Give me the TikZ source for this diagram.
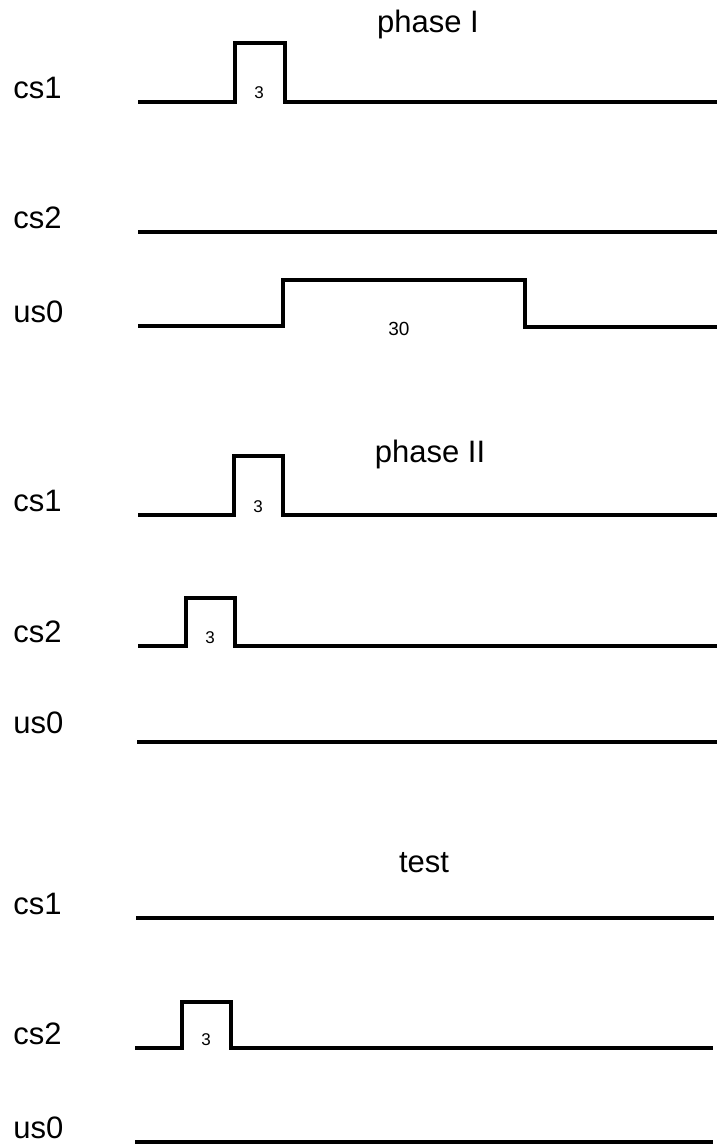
\documentclass[tikz,border=0pt]{standalone}
\usepackage{fontspec}
\setmainfont{Liberation Sans}
\begin{document}
\begin{tikzpicture}[x=0.5pt,y=-0.5pt,
  wave/.style={line width=1.9pt,line join=miter,line cap=butt},
  siglabel/.style={anchor=base west,inner sep=0pt,font=\fontsize{15.5}{18}\selectfont},
  titlelabel/.style={anchor=base,inner sep=0pt,font=\fontsize{15.5}{18}\selectfont},
  durlabel/.style={anchor=base,inner sep=0pt,font=\fontsize{8.5}{10}\selectfont}]
\useasboundingbox (0,0) rectangle (721,1147);
% ---------- phase I ----------
\node[titlelabel] (t1) at (428,32) {phase I};
\node[siglabel] (a1) at (13,98) {cs1};
\draw[wave] (138,102) -- (235,102) -- (235,43) -- (285,43) -- (285,102) -- (717,102);
\node[durlabel] (d1) at (259,98) {3};
\node[siglabel] (a2) at (13,228) {cs2};
\draw[wave] (138,232) -- (717,232);
\node[siglabel] (a3) at (13,322) {us0};
\draw[wave] (138,326) -- (283,326) -- (283,280) -- (525,280) -- (525,327) -- (717,327);
\node[durlabel,font=\fontsize{9.5}{11}\selectfont] (d2) at (399,335) {30};
% ---------- phase II ----------
\node[titlelabel] (t2) at (430,462) {phase II};
\node[siglabel] (b1) at (13,511) {cs1};
\draw[wave] (138,515) -- (234,515) -- (234,456) -- (283,456) -- (283,515) -- (717,515);
\node[durlabel] (d3) at (258,512) {3};
\node[siglabel] (b2) at (13,642) {cs2};
\draw[wave] (138,646) -- (186,646) -- (186,598) -- (235,598) -- (235,646) -- (717,646);
\node[durlabel] (d4) at (210,643) {3};
\node[siglabel] (b3) at (13,733) {us0};
\draw[wave] (137,742) -- (717,742);
% ---------- test ----------
\node[titlelabel] (t3) at (424,872) {test};
\node[siglabel] (c1) at (13,914) {cs1};
\draw[wave] (136,918) -- (714,918);
\node[siglabel] (c2) at (13,1044) {cs2};
\draw[wave] (135,1048) -- (182,1048) -- (182,1002) -- (231,1002) -- (231,1048) -- (713,1048);
\node[durlabel] (d5) at (206,1045) {3};
\node[siglabel] (c3) at (13,1138) {us0};
\draw[wave] (135,1142) -- (713,1142);
\end{tikzpicture}
\end{document}
